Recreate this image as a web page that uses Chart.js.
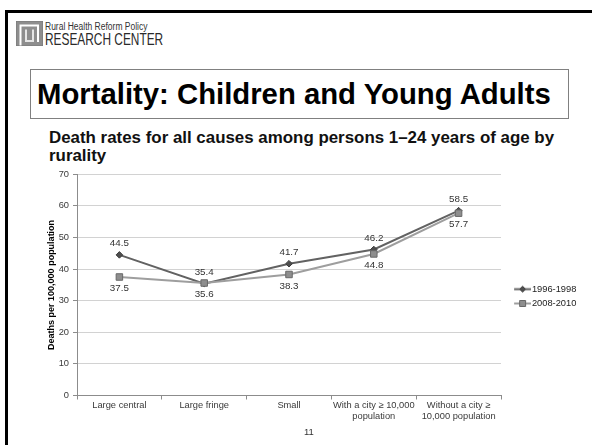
<!DOCTYPE html>
<html>
<head>
<meta charset="utf-8">
<script src="https://cdn.jsdelivr.net/npm/chart.js@4/dist/chart.umd.min.js"></script>
<style>
  html, body { margin: 0; padding: 0; background: #fff; }
  #slide { position: relative; width: 592px; height: 445px; overflow: hidden; background: #fff;
           font-family: "Liberation Sans", Arial, sans-serif; }
  .rule-top  { position: absolute; left: 5px; top: 10px; right: 0; height: 3px; background: #000; }
  .rule-left { position: absolute; left: 5px; top: 10px; bottom: 0; width: 3px; background: #000; }
  #logo { position: absolute; left: 16px; top: 21px; }
  .logo-small { position: absolute; left: 45px; top: 21px; font-size: 10px; color: #333;
                transform: scaleX(0.85); transform-origin: 0 0; white-space: nowrap; }
  .logo-big { position: absolute; left: 45px; top: 30px; font-size: 16.5px; color: #2a2a2a;
              transform: scaleX(0.72); transform-origin: 0 0; white-space: nowrap; }
  #titleBox { position: absolute; left: 30px; top: 69px; width: 537px; height: 48px;
              border: 1px solid #808080; box-sizing: content-box; }
  #titleBox span { position: absolute; left: 6px; top: 0; line-height: 48px; font-size: 29.3px;
                   font-weight: bold; color: #000; white-space: nowrap; }
  #subtitle { position: absolute; left: 49px; top: 129px; font-size: 16.9px; line-height: 18px;
              font-weight: bold; color: #111; white-space: nowrap; }
  #chartWrap { position: absolute; left: 0; top: 160px; width: 592px; height: 285px; }
  #pageNo { position: absolute; left: 304px; top: 426px; font-size: 9.5px; color: #333; }
</style>
</head>
<body>
<div id="slide">
  <div class="rule-top"></div>
  <div class="rule-left"></div>
  <svg id="logo" width="27" height="25" viewBox="0 0 27 25">
    <rect x="0" y="0" width="27" height="25" fill="#8e8e8e"/>
    <path d="M4.5 25 V4.5 H22 V21" fill="none" stroke="#fff" stroke-width="2"/>
    <path d="M10 8.5 V20 H17 V8.5" fill="none" stroke="#e6e6e6" stroke-width="2"/>
    <rect x="0" y="0" width="27" height="25" fill="none" stroke="#777" stroke-width="1"/>
  </svg>
  <div class="logo-small">Rural Health Reform Policy</div>
  <div class="logo-big">RESEARCH CENTER</div>
  <div id="titleBox"><span>Mortality: Children and Young Adults</span></div>
  <div id="subtitle">Death rates for all causes among persons 1–24 years of age by<br>rurality</div>
  <div id="chartWrap"><canvas id="chart" width="592" height="285"></canvas></div>
  <div id="pageNo">11</div>
</div>
<script>
// Rurality categories (multi-line labels are arrays)
const categories = [
  ["Large central"],
  ["Large fringe"],
  ["Small"],
  ["With a city \u2265 10,000", "population"],
  ["Without a city \u2265", "10,000 population"]
];
const seriesNames = ["1996-1998", "2008-2010"];
// Deaths per 100,000 population
const rates1996to1998 = [44.5, 35.4, 41.7, 46.2, 58.5];
const rates2008to2010 = [37.5, 35.6, 38.3, 44.8, 57.7];
const yMin = 0, yMax = 70, yStep = 10;

const FAMILY = "'Liberation Sans', Arial, sans-serif";
const TICK_FONT = { family: FAMILY, size: 9.3, lineHeight: 1.22 };

const styles = [
  { line: '#626262', fill: '#4e4e4e', edge: '#3e3e3e', point: 'rectRot', radius: 3.3 },
  { line: '#9e9e9e', fill: '#8e8e8e', edge: '#686868', point: 'rect', radius: 4.6 }
];

// Legend key: a short line with the series marker, drawn at the right end of the image
function legendKey(s) {
  const c = document.createElement('canvas');
  c.width = 29; c.height = 9;
  const g = c.getContext('2d');
  g.strokeStyle = s.line; g.lineWidth = 2;
  g.beginPath(); g.moveTo(12, 4.5); g.lineTo(29, 4.5); g.stroke();
  g.fillStyle = s.fill; g.strokeStyle = s.edge; g.lineWidth = 1;
  const cx = 20.5, cy = 4.5;
  g.beginPath();
  if (s.point === 'rectRot') {
    g.moveTo(cx, cy - 3); g.lineTo(cx + 3, cy); g.lineTo(cx, cy + 3); g.lineTo(cx - 3, cy); g.closePath();
  } else {
    g.rect(cx - 3, cy - 3, 6, 6);
  }
  g.fill(); g.stroke();
  return c;
}

// Value labels: first series above its points, second series below
const valueLabels = {
  id: 'valueLabels',
  afterDatasetsDraw(chart) {
    const { ctx } = chart;
    ctx.save();
    ctx.font = "9.8px " + FAMILY;
    ctx.fillStyle = '#333';
    ctx.textAlign = 'center';
    ctx.textBaseline = 'middle';
    chart.data.datasets.forEach((ds, i) => {
      const meta = chart.getDatasetMeta(i);
      const dy = i === 0 ? -11.5 : 11.5;
      meta.data.forEach((pt, j) => {
        ctx.fillText(ds.data[j].toFixed(1), pt.x, pt.y + dy);
      });
    });
    ctx.restore();
  }
};

const seriesData = [rates1996to1998, rates2008to2010];

new Chart(document.getElementById('chart'), {
  type: 'line',
  data: {
    labels: categories,
    datasets: seriesData.map((d, i) => ({
      label: seriesNames[i],
      data: d,
      order: 1 - i,
      borderColor: styles[i].line,
      backgroundColor: styles[i].fill,
      borderWidth: 2,
      tension: 0,
      pointStyle: styles[i].point,
      pointRadius: styles[i].radius,
      pointBackgroundColor: styles[i].fill,
      pointBorderColor: styles[i].edge,
      pointBorderWidth: 1
    }))
  },
  options: {
    responsive: false,
    animation: false,
    devicePixelRatio: 1,
    layout: { padding: { top: 14.3, right: 6, bottom: 0, left: 0 } },
    scales: {
      x: {
        offset: true,
        grid: { offset: true, drawOnChartArea: false, drawTicks: true, tickLength: 4, color: '#8c8c8c' },
        border: { color: '#8c8c8c', width: 1 },
        ticks: { font: TICK_FONT, color: '#3a3a3a', padding: 0, maxRotation: 0, autoSkip: false },
        afterFit(scale) { scale.height = 49.5; }
      },
      y: {
        min: yMin, max: yMax,
        ticks: { stepSize: yStep, font: TICK_FONT, color: '#3a3a3a', padding: 4 },
        grid: { color: '#d2d2d2', tickLength: 4, tickColor: '#8c8c8c' },
        border: { color: '#8c8c8c', width: 1 },
        title: {
          display: true,
          text: 'Deaths per 100,000 population',
          color: '#000',
          font: { family: FAMILY, size: 9, weight: 'bold' },
          padding: { top: 46, bottom: 0 }
        },
        afterFit(scale) { scale.width = 77; }
      }
    },
    plugins: {
      tooltip: { enabled: false },
      legend: {
        position: 'right',
        fullSize: false,
        maxWidth: 85,
        title: { display: true, text: ' ', font: { size: 10 }, padding: { top: 0, bottom: 10.8 } },
        labels: {
          usePointStyle: true,
          pointStyleWidth: 21.25,
          boxHeight: 9.3,
          padding: 5,
          color: '#222',
          font: TICK_FONT,
          sort: (a, b) => a.datasetIndex - b.datasetIndex,
          generateLabels(chart) {
            const items = Chart.defaults.plugins.legend.labels.generateLabels(chart);
            items.forEach(it => { it.pointStyle = legendKey(styles[it.datasetIndex]); });
            return items;
          }
        }
      }
    }
  },
  plugins: [valueLabels]
});
</script>
</body>
</html>
